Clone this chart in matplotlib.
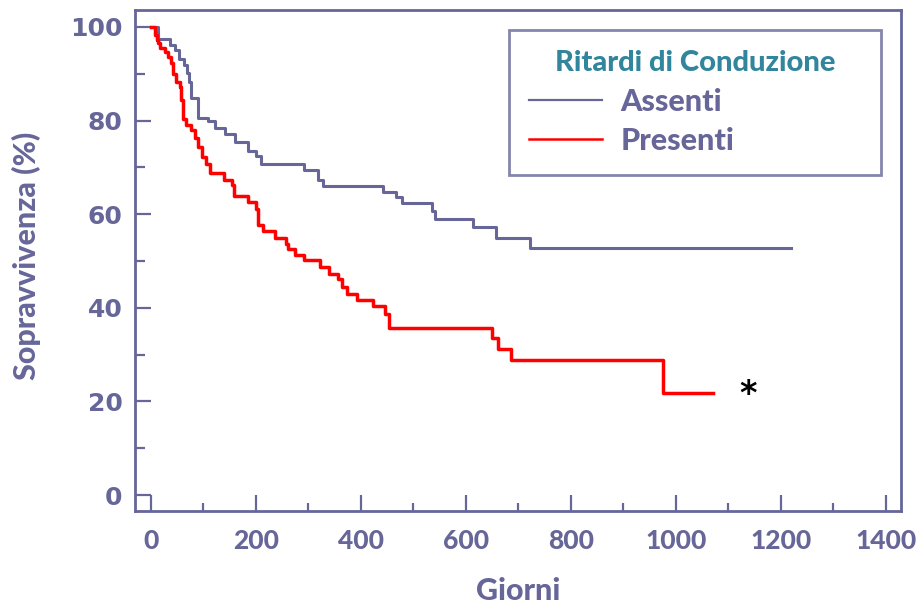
import matplotlib
matplotlib.use('Agg')
import matplotlib.pyplot as plt
from matplotlib.ticker import MultipleLocator
from matplotlib.lines import Line2D

# Kaplan-Meier steps (days, survival %)
giorni_assenti = [0, 14, 36, 46, 53, 63, 69, 73, 77, 90, 109, 122, 141, 161, 185,
                  200, 209, 291, 318, 328, 442, 467, 478, 535, 541, 614, 658, 722, 1220]
surv_assenti = [100, 97.4, 96.2, 95.1, 93.1, 91.9, 90.1, 88.3, 84.8, 80.5, 79.8, 78.3,
                77.1, 75.5, 73.5, 72.5, 70.7, 69.5, 67.3, 66.0, 64.7, 63.6, 62.4, 60.7,
                59.0, 57.2, 54.9, 52.7, 52.7]

giorni_presenti = [0, 8, 11, 14, 17, 27, 33, 39, 42, 49, 55, 58, 62, 68, 77, 84, 90, 97,
                   105, 113, 139, 155, 158, 185, 200, 204, 214, 236, 257, 261, 274, 291,
                   323, 340, 357, 365, 373, 392, 423, 446, 453, 650, 661, 686, 976, 1071]
surv_presenti = [100, 98.3, 97.2, 96.5, 95.4, 94.7, 93.6, 92.2, 90.0, 88.3, 87.2, 84.4,
                 80.4, 79.0, 77.9, 76.2, 74.4, 72.2, 70.8, 68.7, 67.2, 66.2, 63.8, 62.5,
                 61.2, 57.6, 56.5, 55.0, 53.7, 52.6, 51.2, 50.1, 48.7, 47.3, 46.2, 44.4,
                 43.0, 41.7, 40.3, 38.7, 35.7, 33.6, 31.2, 28.9, 21.7, 21.7]

gruppi = ['Assenti', 'Presenti']
titolo_legenda = 'Ritardi di Conduzione'

viola = '#666699'
rosso = '#ff0000'
teal = '#31859c'
peso = 'black'

fig = plt.figure(figsize=(9.24, 6.11), dpi=100)
ax = fig.add_axes([0.1461, 0.1637, 0.8287, 0.8199])

ax.step(giorni_assenti, surv_assenti, where='post', color=viola, lw=2.2)
ax.step(giorni_presenti, surv_presenti, where='post', color=rosso, lw=2.5)

# significance mark
ax.text(1137, 21.4, '*', ha='center', va='center', fontsize=24,
        fontweight='bold', color='black', family='DejaVu Sans')

ax.set_xlim(-30, 1428)
ax.set_ylim(-3.4, 103.6)

ax.xaxis.set_major_locator(MultipleLocator(200))
ax.xaxis.set_minor_locator(MultipleLocator(100))
ax.yaxis.set_major_locator(MultipleLocator(20))
ax.yaxis.set_minor_locator(MultipleLocator(10))

for s in ax.spines.values():
    s.set_color(viola)
    s.set_linewidth(2.0)

ax.tick_params(axis='both', which='both', direction='in', color=viola, width=1.6,
               labelcolor=viola)
ax.tick_params(axis='x', which='major', length=11.5, pad=13)
ax.tick_params(axis='x', which='minor', length=6)
ax.tick_params(axis='y', which='major', length=11.5, pad=9)
ax.tick_params(axis='y', which='minor', length=7)

for lab in ax.get_xticklabels():
    lab.set_family('Lato')
    lab.set_fontweight(peso)
    lab.set_fontsize(19)
for lab in ax.get_yticklabels():
    lab.set_family('DejaVu Sans')
    lab.set_fontweight('bold')
    lab.set_fontsize(18)

ax.set_xlabel('Giorni', family='Lato', fontweight=peso, fontsize=22, color=viola)
ax.set_ylabel('Sopravvivenza (%)', family='Lato', fontweight=peso, fontsize=22, color=viola)
ax.xaxis.set_label_coords(0.5, -0.132)
ax.yaxis.set_label_coords(-0.123, 0.509)

handles = [Line2D([], [], color=viola, lw=1.6), Line2D([], [], color=rosso, lw=1.8)]
leg = ax.legend(handles, gruppi, title=titolo_legenda, loc='upper left',
                bbox_to_anchor=(0.4884, 0.0, 0.486, 0.960), mode='expand',
                borderaxespad=0, fancybox=False, borderpad=0.66, labelspacing=0.37,
                handlelength=2.39, handletextpad=0.59,
                prop={'family': 'Lato', 'weight': peso, 'size': 22})
leg.get_frame().set_edgecolor(viola)
leg.get_frame().set_linewidth(2.0)
leg.get_title().set_color(teal)
leg.get_title().set_fontproperties({'family': 'Lato', 'weight': peso, 'size': 21})
for t in leg.get_texts():
    t.set_color(viola)

fig.savefig('out.png', dpi=100)
